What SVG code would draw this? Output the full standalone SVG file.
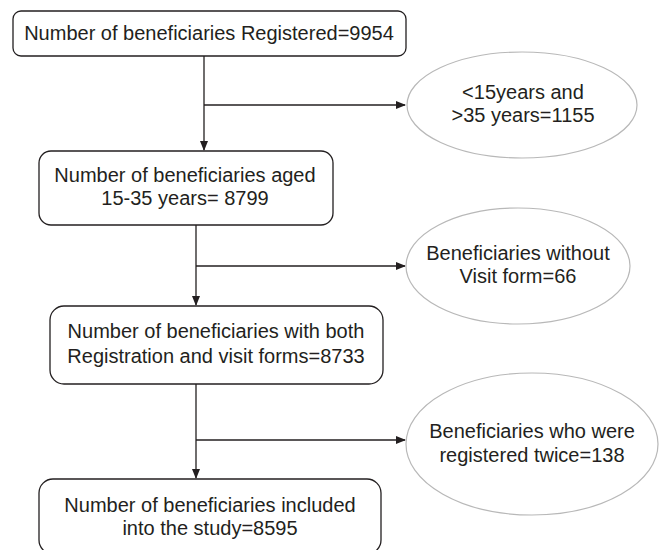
<svg xmlns="http://www.w3.org/2000/svg" width="661" height="550" viewBox="0 0 661 550">
<defs>
<marker id="ah" markerWidth="10" markerHeight="8" refX="9" refY="4" orient="auto" markerUnits="userSpaceOnUse">
<path d="M0,0 L10,4 L0,8 Z" fill="#231f20"/>
</marker>
<style>
.box{fill:#fff;stroke:#231f20;stroke-width:1.3}
.ell{fill:#fff;stroke:#b8b8b8;stroke-width:1.2}
.t{font-family:"Liberation Sans",Arial,sans-serif;font-size:20px;fill:#231f20;text-anchor:middle}
.c{fill:none;stroke:#231f20;stroke-width:1.3}
</style>
</defs>
<rect width="661" height="550" fill="#fff"/>
<g id="connectors">
<path class="c" d="M204,56 V150" marker-end="url(#ah)"/>
<path class="c" d="M204,105 H405" marker-end="url(#ah)"/>
<path class="c" d="M196,225 V305" marker-end="url(#ah)"/>
<path class="c" d="M196,266 H405" marker-end="url(#ah)"/>
<path class="c" d="M196,384 V478" marker-end="url(#ah)"/>
<path class="c" d="M196,440 H405" marker-end="url(#ah)"/>
</g>
<g id="n1">
<rect class="box" x="13" y="11" width="393" height="45" rx="8"/>
<text class="t" x="209" y="40">Number of beneficiaries Registered=9954</text>
</g>
<g id="e1">
<ellipse class="ell" cx="522" cy="105" rx="115" ry="53"/>
<text class="t" x="523" y="99">&lt;15years and</text>
<text class="t" x="523" y="122">&gt;35 years=1155</text>
</g>
<g id="n2">
<rect class="box" x="39" y="151" width="294" height="74" rx="12"/>
<text class="t" x="185" y="182">Number of beneficiaries aged</text>
<text class="t" x="185" y="205">15-35 years= 8799</text>
</g>
<g id="e2">
<ellipse class="ell" cx="518" cy="266" rx="112" ry="58"/>
<text class="t" x="518" y="260">Beneficiaries without</text>
<text class="t" x="518" y="283">Visit form=66</text>
</g>
<g id="n3">
<rect class="box" x="50" y="306" width="333" height="78" rx="14"/>
<text class="t" x="216" y="338">Number of beneficiaries with both</text>
<text class="t" x="216" y="363">Registration and visit forms=8733</text>
</g>
<g id="e3">
<ellipse class="ell" cx="532" cy="444" rx="126" ry="71"/>
<text class="t" x="532" y="438">Beneficiaries who were</text>
<text class="t" x="532" y="462">registered twice=138</text>
</g>
<g id="n4">
<rect class="box" x="39" y="479" width="342" height="75" rx="14"/>
<text class="t" x="210" y="512">Number of beneficiaries included</text>
<text class="t" x="210" y="535">into the study=8595</text>
</g>
</svg>
